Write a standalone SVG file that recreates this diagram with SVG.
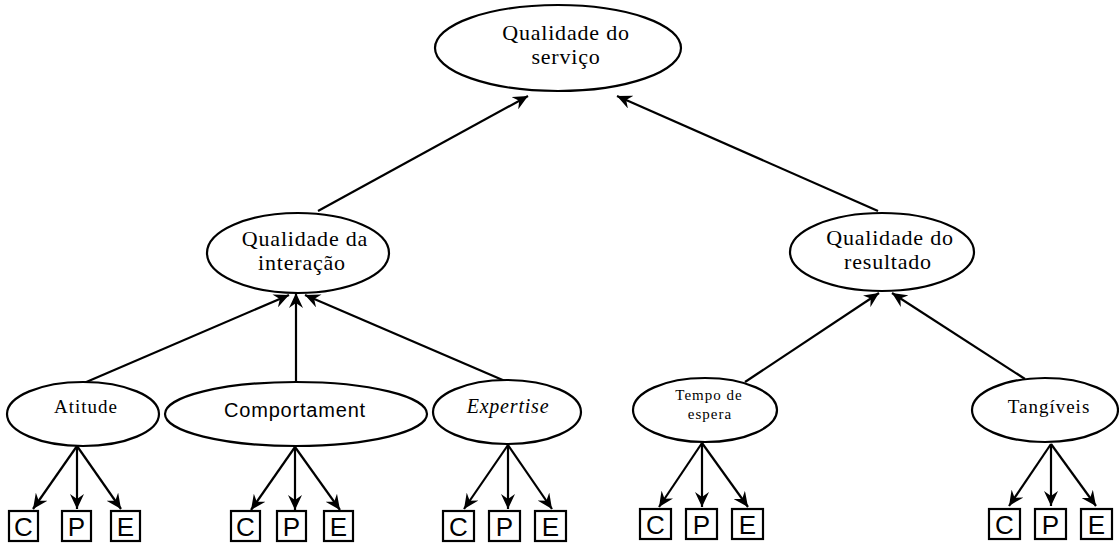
<svg xmlns="http://www.w3.org/2000/svg" width="1119" height="543" viewBox="0 0 1119 543">
  <style>
    .node ellipse { fill: #fff; stroke: #000; stroke-width: 2.2; }
    .box rect { fill: #fff; stroke: #000; stroke-width: 2.2; }
    .serif { font-family: "Liberation Serif", "Times New Roman", serif; fill: #000; text-anchor: middle; }
    .big { font-size: 22px; letter-spacing: 0.8px; }
    .mid { font-size: 19px; letter-spacing: 1px; }
    .small { font-size: 15px; letter-spacing: 1px; }
    .sans { font-family: "Liberation Sans", Arial, sans-serif; fill: #000; text-anchor: middle; }
    .letter { font-size: 26px; }
    .edges line { stroke: #000; stroke-width: 2.2; marker-end: url(#arrow); }
  </style>
  <defs>
    <!-- barbed arrowhead shared by every connector -->
    <marker id="arrow" markerUnits="userSpaceOnUse" markerWidth="16" markerHeight="14" refX="15" refY="7" orient="auto">
      <path d="M0,0 L15,7 L0,14 L5,7 Z" fill="#000"/>
    </marker>
  </defs>

  <rect width="1119" height="543" fill="#fff"/>

  <!-- connectors -->
  <g id="connectors" class="edges">
    <line x1="318" y1="211" x2="528" y2="96"/>
    <line x1="878" y1="211" x2="617" y2="96"/>

    <line x1="84" y1="383" x2="289" y2="295"/>
    <line x1="296" y1="382" x2="296" y2="293"/>
    <line x1="505" y1="381" x2="305" y2="295"/>
    <line x1="745" y1="382" x2="879" y2="293"/>
    <line x1="1025" y1="379" x2="892" y2="293"/>

    <line x1="77" y1="446" x2="33" y2="509"/>
    <line x1="77" y1="446" x2="77" y2="509"/>
    <line x1="77" y1="446" x2="121" y2="509"/>

    <line x1="295" y1="447" x2="251" y2="510"/>
    <line x1="295" y1="447" x2="295" y2="510"/>
    <line x1="295" y1="447" x2="340" y2="510"/>

    <line x1="508" y1="445" x2="464" y2="509"/>
    <line x1="508" y1="445" x2="508" y2="509"/>
    <line x1="508" y1="445" x2="552" y2="509"/>

    <line x1="702" y1="443" x2="659" y2="507"/>
    <line x1="702" y1="443" x2="702" y2="507"/>
    <line x1="702" y1="443" x2="748" y2="507"/>

    <line x1="1051" y1="444" x2="1009" y2="506"/>
    <line x1="1051" y1="444" x2="1051" y2="506"/>
    <line x1="1051" y1="444" x2="1096" y2="506"/>
  </g>

  <!-- top level -->
  <g id="qualidade-servico" class="node">
    <ellipse cx="558" cy="48" rx="123" ry="43"/>
    <text class="serif big" x="566" y="40">Qualidade do</text>
    <text class="serif big" x="566" y="64">serviço</text>
  </g>

  <!-- second level -->
  <g id="qualidade-interacao" class="node">
    <ellipse cx="298" cy="253" rx="91" ry="40"/>
    <text class="serif big" x="305" y="246">Qualidade da</text>
    <text class="serif big" x="302" y="270">interação</text>
  </g>
  <g id="qualidade-resultado" class="node">
    <ellipse cx="882" cy="252" rx="92" ry="39"/>
    <text class="serif big" x="890" y="245">Qualidade do</text>
    <text class="serif big" x="888" y="269">resultado</text>
  </g>

  <!-- third level -->
  <g id="atitude" class="node">
    <ellipse cx="83" cy="414" rx="76" ry="32"/>
    <text class="serif mid" x="86" y="413">Atitude</text>
  </g>
  <g id="comportament" class="node">
    <ellipse cx="296" cy="414" rx="131" ry="32"/>
    <text class="sans" x="295" y="417" font-size="20" letter-spacing="0.8">Comportament</text>
  </g>
  <g id="expertise" class="node">
    <ellipse cx="507" cy="412" rx="74" ry="32"/>
    <text class="serif" x="508" y="413" font-size="20" font-style="italic" letter-spacing="0.8">Expertise</text>
  </g>
  <g id="tempo-espera" class="node">
    <ellipse cx="705" cy="410" rx="72" ry="32"/>
    <text class="serif small" x="709" y="400">Tempo de</text>
    <text class="serif small" x="710" y="419">espera</text>
  </g>
  <g id="tangiveis" class="node">
    <ellipse cx="1045" cy="410" rx="73" ry="32"/>
    <text class="serif mid" x="1049" y="413">Tangíveis</text>
  </g>

  <!-- leaf boxes: C, P, E -->
  <g id="atitude-c" class="box"><rect x="9" y="511" width="29" height="30"/><text class="sans letter" x="23.5" y="536">C</text></g>
  <g id="atitude-p" class="box"><rect x="62" y="511" width="29" height="30"/><text class="sans letter" x="76.5" y="536">P</text></g>
  <g id="atitude-e" class="box"><rect x="111" y="511" width="29" height="30"/><text class="sans letter" x="125.5" y="536">E</text></g>

  <g id="comportament-c" class="box"><rect x="231" y="511" width="29" height="30"/><text class="sans letter" x="245.5" y="536">C</text></g>
  <g id="comportament-p" class="box"><rect x="277" y="511" width="29" height="30"/><text class="sans letter" x="291.5" y="536">P</text></g>
  <g id="comportament-e" class="box"><rect x="324" y="511" width="29" height="30"/><text class="sans letter" x="338.5" y="536">E</text></g>

  <g id="expertise-c" class="box"><rect x="443" y="511" width="31" height="30"/><text class="sans letter" x="458.5" y="536">C</text></g>
  <g id="expertise-p" class="box"><rect x="489" y="511" width="31" height="30"/><text class="sans letter" x="504.5" y="536">P</text></g>
  <g id="expertise-e" class="box"><rect x="535" y="511" width="31" height="30"/><text class="sans letter" x="550.5" y="536">E</text></g>

  <g id="tempo-c" class="box"><rect x="640" y="509" width="31" height="30"/><text class="sans letter" x="655.5" y="534">C</text></g>
  <g id="tempo-p" class="box"><rect x="686" y="509" width="31" height="30"/><text class="sans letter" x="701.5" y="534">P</text></g>
  <g id="tempo-e" class="box"><rect x="732" y="509" width="31" height="30"/><text class="sans letter" x="747.5" y="534">E</text></g>

  <g id="tangiveis-c" class="box"><rect x="989" y="509" width="31" height="30"/><text class="sans letter" x="1004.5" y="534">C</text></g>
  <g id="tangiveis-p" class="box"><rect x="1035" y="509" width="31" height="30"/><text class="sans letter" x="1050.5" y="534">P</text></g>
  <g id="tangiveis-e" class="box"><rect x="1081" y="509" width="31" height="30"/><text class="sans letter" x="1096.5" y="534">E</text></g>
</svg>
